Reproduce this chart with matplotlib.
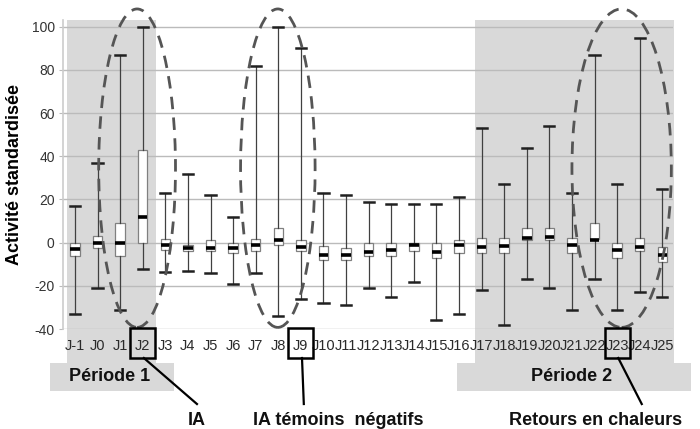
import matplotlib.pyplot as plt
from matplotlib import font_manager
from matplotlib.patches import Ellipse, Rectangle

days = ["J-1", "J0", "J1", "J2", "J3", "J4", "J5", "J6", "J7", "J8", "J9",
        "J10", "J11", "J12", "J13", "J14", "J15", "J16", "J17", "J18", "J19",
        "J20", "J21", "J22", "J23", "J24", "J25"]
whisker_hi = [17, 37, 87, 100, 23, 32, 22, 12, 82, 100, 90,
              23, 22, 19, 18, 18, 18, 21, 53, 27, 44,
              54, 23, 87, 27, 95, 25]
q3 = [0, 3, 9, 43, 1.5, -1, 1, 0, 1.5, 7, 1,
      -1.5, -2.5, 0, 0, 0, 0, 1, 2, 2, 7,
      7, 2, 9, 0, 2, -2]
median = [-3, 0, 0, 12, -1, -2.5, -2.5, -2.5, -1, 1, -2,
          -5.5, -5.5, -4.5, -3.5, -1, -4.5, -1, -2, -1.5, 2,
          2.5, -1, 1, -3.5, -2, -5.5]
q1 = [-6, -2.5, -6, 0, -3.5, -4, -4, -5, -4, -1, -4,
      -8, -8, -6, -6, -4, -7, -5, -5, -5, 1,
      1, -5, 1.5, -7, -4, -9]
whisker_lo = [-33, -21, -31, -12, -13.5, -13, -14, -19, -14, -34, -26,
              -28, -29, -21, -25, -18, -36, -33, -22, -38, -17,
              -21, -31, -17, -31, -23, -25]

# name, shaded span in plot, label box span, label centre
periods = [("Période 1", -0.35, 3.58, -1.1, 4.38, 1.55),
           ("Période 2", 17.7, 26.5, 16.9, 27.26, 22.0)]
# day index, ellipse centre, ellipse width, label, line end x, label x
highlights = [(3, 2.75, 3.4, "IA", 5.4, 5.4),
              (10, 8.98, 3.3, "IA témoins  négatifs", 10.13, 11.64),
              (24, 24.2, 4.4, "Retours en chaleurs", 25.09, 23.05)]

GRAY = "#d9d9d9"
plt.rcParams["font.family"] = ["Liberation Sans", "DejaVu Sans"]
plt.rcParams["axes.unicode_minus"] = False

names = {f.name for f in font_manager.fontManager.ttflist}
narrow = "Liberation Sans Narrow" if "Liberation Sans Narrow" in names else "Liberation Sans"

fig = plt.figure(figsize=(7, 4.29), dpi=100)
ax = fig.add_axes([0.09, 0.2331, 0.871, 0.7196])

stats = []
for i in range(len(days)):
    stats.append({"med": median[i], "q1": q1[i], "q3": q3[i],
                  "whislo": whisker_lo[i], "whishi": whisker_hi[i],
                  "label": days[i]})

ax.bxp(stats, positions=range(len(days)), widths=0.42, patch_artist=True,
       showfliers=False,
       boxprops=dict(facecolor="white", edgecolor="#808080", linewidth=0.9),
       medianprops=dict(color="black", linewidth=2.6),
       whiskerprops=dict(color="#404040", linewidth=0.9),
       capprops=dict(color="#202020", linewidth=1.8),
       capwidths=0.45, zorder=3)

ax.set_xlim(-0.53, 26.46)
ax.set_ylim(-40, 103)
ax.set_yticks(range(-40, 101, 20))
ax.set_xticks(range(len(days)))
ax.set_xticklabels(days, fontsize=10.5, color="#2a2a2a", family=narrow)
ax.tick_params(axis="x", length=0, pad=7)
ax.tick_params(axis="y", length=3, color="#bbbbbb", labelsize=10,
               labelcolor="#333333", pad=3)

ax.set_axisbelow(True)
ax.yaxis.grid(True, color="#bbbbbb", linewidth=1.0, zorder=1)
for s in ["top", "right", "bottom"]:
    ax.spines[s].set_visible(False)
ax.spines["left"].set_color("#cccccc")
ax.spines["left"].set_linewidth(1.2)

ax.set_ylabel("Activité standardisée", fontsize=13, fontweight="bold",
              labelpad=6)

tr = ax.get_xaxis_transform()
for name, x0, x1, bx0, bx1, cx in periods:
    ax.add_patch(Rectangle((x0, -0.110), x1 - x0, 0.110 + 1.0,
                           transform=tr, facecolor=GRAY, edgecolor="none",
                           clip_on=False, zorder=0))
    ax.add_patch(Rectangle((bx0, -0.201), bx1 - bx0, 0.091,
                           transform=tr, facecolor=GRAY, edgecolor="none",
                           clip_on=False, zorder=0))
    ax.text(cx, -0.155, name, transform=tr, ha="center", va="center",
            fontsize=13, fontweight="bold", color="#111111")

for idx, cx, w, label, lx, tx in highlights:
    ax.add_patch(Ellipse((cx, 34.5), w, 147.5, fill=False,
                         edgecolor="#555555", linewidth=2.0,
                         linestyle=(0, (4.5, 3)), clip_on=False, zorder=4))
    ax.add_patch(Rectangle((idx - 0.55, -0.094), 1.1, 0.097, transform=tr,
                           fill=False, edgecolor="black", linewidth=1.8,
                           clip_on=False, zorder=5))
    ax.plot([idx + 0.05, lx], [-0.094, -0.243], transform=tr, color="black",
            linewidth=1.6, clip_on=False, zorder=5)
    ax.text(tx, -0.295, label, transform=tr, ha="center", va="center",
            fontsize=13, fontweight="bold", color="#111111")

fig.savefig("out.png", dpi=100)
